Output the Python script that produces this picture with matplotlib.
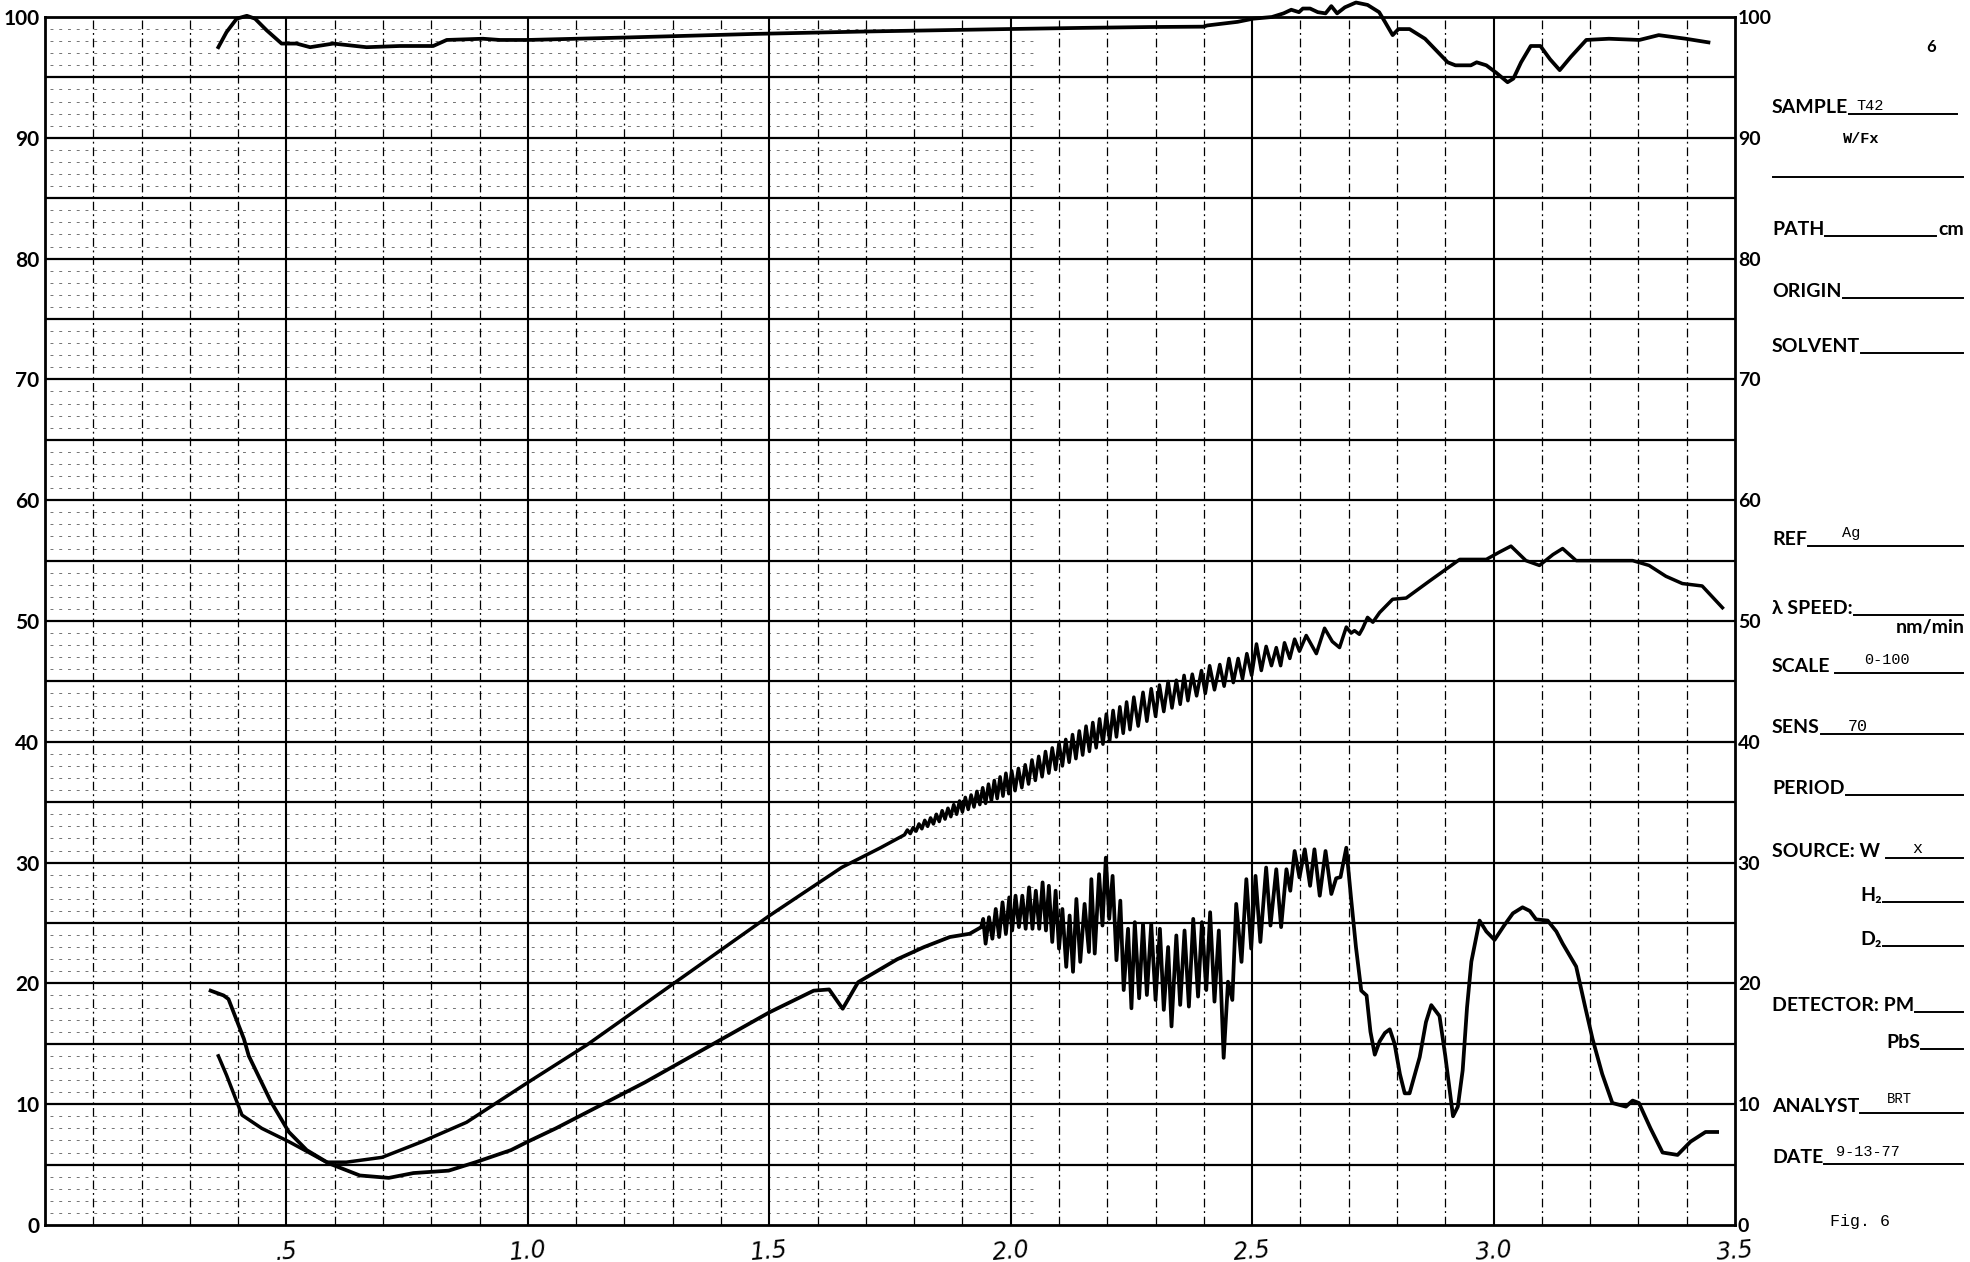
import numpy as np
import matplotlib.pyplot as plt

# readings: wavelength (um) vs % reflectance
top_x = [0.359, 0.376, 0.397, 0.418, 0.435, 0.459, 0.490, 0.521, 0.549, 0.597, 0.666, 0.735, 0.804, 0.832, 0.907,
         0.942, 1.0, 1.2, 1.47, 1.7, 1.99, 2.15, 2.288, 2.399, 2.407, 2.470, 2.502, 2.541, 2.565, 2.581, 2.597,
         2.605, 2.620, 2.636, 2.652, 2.664, 2.676, 2.692, 2.715, 2.739, 2.763, 2.775, 2.791, 2.803, 2.826, 2.858,
         2.905, 2.921, 2.953, 2.965, 2.985, 3.005, 3.029, 3.041, 3.057, 3.077, 3.097, 3.117, 3.137, 3.160, 3.192,
         3.239, 3.302, 3.342, 3.398, 3.445]
top_y = [97.5, 98.75, 99.86, 100.1, 99.86, 98.9, 97.8, 97.8, 97.5, 97.8, 97.5, 97.6, 97.6, 98.1, 98.2,
         98.1, 98.1, 98.3, 98.6, 98.8, 99.0, 99.1, 99.17, 99.2, 99.3, 99.6, 99.86, 100.0, 100.3, 100.6, 100.4,
         100.7, 100.7, 100.4, 100.3, 100.9, 100.3, 100.8, 101.2, 101.0, 100.4, 99.6, 98.5, 99.0, 99.0, 98.2,
         96.25, 96.0, 96.0, 96.25, 96.0, 95.4, 94.6, 94.9, 96.25, 97.6, 97.6, 96.5, 95.6, 96.7, 98.1,
         98.2, 98.1, 98.5, 98.2, 97.9]

mid_x = [0.359, 0.376, 0.408, 0.449, 0.505, 0.542, 0.583, 0.624, 0.698, 0.781, 0.873, 1.0, 1.122, 1.302, 1.5,
         1.65, 1.729,
         1.780, 1.786, 1.792, 1.798, 1.804, 1.810, 1.816, 1.822, 1.828, 1.834, 1.840, 1.846, 1.852, 1.858,
         1.864, 1.870, 1.876, 1.882, 1.888, 1.894, 1.900, 1.906, 1.912, 1.918, 1.924, 1.930, 1.936, 1.942,
         1.948, 1.954, 1.960, 1.966, 1.972, 1.978, 1.984, 1.990, 1.996, 2.002,
         2.009, 2.016, 2.023, 2.030, 2.037, 2.044, 2.051, 2.058, 2.065, 2.072, 2.079, 2.086, 2.093, 2.100,
         2.107, 2.114, 2.121, 2.128, 2.135, 2.142, 2.149, 2.156, 2.163, 2.170, 2.177, 2.184, 2.191, 2.198,
         2.205, 2.212, 2.219, 2.226, 2.233, 2.240, 2.247, 2.255, 2.264,
         2.274, 2.282, 2.291, 2.300, 2.308, 2.317, 2.326, 2.334, 2.343, 2.351, 2.359, 2.367, 2.376, 2.385,
         2.395, 2.403, 2.412, 2.422, 2.433, 2.442, 2.452, 2.461, 2.471, 2.480, 2.489, 2.499, 2.509, 2.519,
         2.529, 2.540, 2.550, 2.559, 2.567, 2.578, 2.588,
         2.598, 2.612, 2.633, 2.650, 2.666, 2.681, 2.695, 2.705, 2.712, 2.722, 2.729, 2.739, 2.750, 2.764,
         2.791, 2.819, 2.867, 2.902, 2.930, 2.985, 3.012, 3.036, 3.067, 3.095, 3.123, 3.143, 3.171, 3.288,
         3.322, 3.357, 3.391, 3.432, 3.474]
mid_y = [14.0, 12.4, 9.1, 8.0, 6.9, 6.1, 5.2, 5.2, 5.6, 6.9, 8.5, 11.8, 14.9, 20.0, 25.6,
         29.6, 31.2,
         32.3, 32.7, 32.4, 32.9, 32.6, 33.2, 32.8, 33.5, 33.0, 33.7, 33.2, 34.0, 33.4, 34.3,
         33.6, 34.5, 33.8, 34.8, 34.0, 35.1, 34.2, 35.4, 34.4, 35.6, 34.6, 35.9, 34.8, 36.2,
         34.9, 36.5, 35.1, 36.8, 35.3, 37.1, 35.5, 37.4, 35.7, 37.6,
         35.95, 37.8, 36.2, 38.1, 36.5, 38.5, 36.8, 38.8, 37.1, 39.2, 37.4, 39.5, 37.7, 39.9,
         38.0, 40.2, 38.3, 40.6, 38.6, 40.9, 38.9, 41.3, 39.2, 41.6, 39.5, 41.9, 39.8, 42.3,
         40.1, 42.6, 40.4, 42.9, 40.7, 43.3, 41.0, 43.7, 41.3,
         44.1, 41.7, 44.4, 42.1, 44.7, 42.5, 45.0, 42.8, 45.1, 43.1, 45.5, 43.4, 45.6, 43.8,
         45.9, 44.0, 46.3, 44.3, 46.4, 44.6, 46.9, 44.9, 46.9, 45.2, 47.3, 45.5, 48.1, 45.9,
         47.9, 46.3, 47.8, 46.3, 48.2, 46.9, 48.5,
         47.5, 48.8, 47.3, 49.4, 48.3, 47.8, 49.5, 49.0, 49.2, 48.9, 49.4, 50.3, 49.9, 50.7,
         51.8, 51.9, 53.3, 54.3, 55.1, 55.1, 55.7, 56.2, 55.0, 54.6, 55.5, 56.0, 55.0, 55.0,
         54.6, 53.7, 53.1, 52.9, 51.1]

low_x = [0.343, 0.370, 0.380, 0.412, 0.422, 0.468, 0.505, 0.542, 0.588, 0.652, 0.712, 0.763, 0.836, 0.892,
         0.965, 1.0, 1.058, 1.15, 1.242, 1.371, 1.5, 1.592, 1.624, 1.652, 1.684, 1.765, 1.82,
         1.874, 1.915, 1.939, 1.943, 1.948, 1.955, 1.962, 1.969, 1.976, 1.983, 1.990, 1.997, 2.003, 2.010,
         2.017, 2.024, 2.031, 2.038, 2.045, 2.052, 2.059, 2.066, 2.073, 2.079, 2.086, 2.093, 2.100, 2.107,
         2.115, 2.122, 2.129, 2.136, 2.144, 2.153, 2.162, 2.167, 2.174, 2.183, 2.190, 2.197, 2.204, 2.211,
         2.219, 2.227, 2.234, 2.243, 2.250, 2.257, 2.266, 2.274, 2.282, 2.291, 2.300, 2.309, 2.317, 2.326,
         2.333, 2.343, 2.351, 2.360, 2.369, 2.378, 2.388, 2.396, 2.405, 2.413, 2.422, 2.431, 2.441, 2.450,
         2.459, 2.467, 2.478, 2.488, 2.498, 2.507, 2.517, 2.529, 2.538, 2.550, 2.560, 2.571, 2.579, 2.588,
         2.598, 2.609, 2.620, 2.629, 2.640, 2.652, 2.664, 2.674, 2.683, 2.695, 2.705,
         2.715, 2.726, 2.737, 2.745, 2.754, 2.764, 2.775, 2.785, 2.795, 2.806, 2.816, 2.826, 2.847, 2.860,
         2.871, 2.888, 2.900, 2.916, 2.926, 2.936, 2.945, 2.954, 2.971, 2.985, 3.002, 3.022, 3.040, 3.060,
         3.075, 3.088, 3.112, 3.130, 3.143, 3.171, 3.190, 3.205, 3.225, 3.246, 3.274, 3.288, 3.301, 3.325,
         3.350, 3.381, 3.408, 3.439, 3.463]
low_y = [19.4, 19.0, 18.7, 15.4, 14.0, 10.2, 7.7, 6.2, 5.1, 4.1, 3.9, 4.3, 4.5, 5.2,
         6.2, 6.9, 8.0, 9.9, 11.8, 14.7, 17.6, 19.4, 19.5, 17.9, 20.1, 22.0, 23.0,
         23.84, 24.11, 24.66, 25.34, 23.29, 25.48, 23.70, 26.16, 23.84, 26.71, 24.11, 27.12, 24.38, 27.26,
         24.66, 27.26, 24.52, 27.95, 24.52, 27.67, 24.52, 28.36, 24.38, 28.08, 23.43, 27.67, 22.88, 26.16,
         21.37, 25.62, 20.96, 26.99, 21.78, 26.58, 22.60, 28.63, 22.47, 29.04, 24.79, 30.41, 25.34, 28.90,
         21.92, 26.85, 19.45, 24.52, 17.94, 25.07, 18.77, 24.93, 19.04, 24.93, 18.63, 24.52, 17.81, 23.01,
         16.44, 23.97, 18.22, 24.38, 18.08, 25.34, 18.91, 25.07, 19.45, 25.89, 18.49, 24.38, 13.84, 20.14,
         18.63, 26.58, 21.78, 28.63, 22.88, 28.90, 23.43, 29.59, 24.79, 29.45, 24.66, 29.45, 27.67, 30.96,
         28.77, 31.10, 28.08, 31.10, 27.26, 30.96, 27.40, 28.7, 28.8, 31.23, 27.0,
         23.0, 19.4, 19.0, 16.0, 14.1, 15.2, 15.9, 16.2, 15.0, 12.5, 10.9, 10.9, 13.9, 16.8,
         18.2, 17.3, 14.0, 9.0, 9.8, 12.8, 18.0, 21.8, 25.2, 24.3, 23.6, 24.8, 25.8, 26.3,
         26.0, 25.3, 25.2, 24.3, 23.3, 21.4, 18.0, 15.4, 12.5, 10.1, 9.8, 10.3, 10.1, 8.0,
         6.0, 5.8, 6.9, 7.7, 7.7]

y_ticks = list(range(0, 101, 10))
x_labels = ['.5', '1.0', '1.5', '2.0', '2.5', '3.0', '3.5']
x_label_pos = [0.5, 1.0, 1.5, 2.0, 2.5, 3.0, 3.5]

W, H = 1970, 1262
L, R, T, B = 45, 1735, 17, 1225
lbl_font = ['Lato', 'DejaVu Sans']
mono = 'Liberation Mono'

fig = plt.figure(figsize=(W / 100, H / 100), dpi=100)
ax = fig.add_axes([L / W, 1 - B / H, (R - L) / W, (B - T) / H])
ax.set_xlim(0, 3.5)
ax.set_ylim(0, 100)

# chart paper grid
for v in range(1, 100):
    if v % 5 == 0:
        ax.axhline(v, color='k', lw=1.6, zorder=1)
    else:
        ax.hlines(v, 0.01, 2.05, color='0.45', lw=0.7, linestyles=(0, (3, 6)), zorder=1)
for i in range(1, 35):
    if i % 5 == 0:
        ax.axvline(i / 10, color='k', lw=1.5, zorder=1)
    else:
        ax.axvline(i / 10, color='k', lw=0.9, ls=(0, (7, 3, 1.5, 3)), zorder=1)

for s in ax.spines.values():
    s.set_linewidth(2)

ax.plot(top_x, top_y, color='k', lw=2.7, clip_on=False, zorder=3)
ax.plot(mid_x, mid_y, color='k', lw=2.5, clip_on=False, zorder=3)
ax.plot(low_x, low_y, color='k', lw=2.7, clip_on=False, zorder=3)

ax.set_xticks([])
ax.set_yticks(y_ticks)
ax.set_yticklabels([str(t) for t in y_ticks], family=lbl_font, weight='bold', fontsize=15)
ax.tick_params(axis='y', length=0, pad=4)

ax2 = ax.twinx()
ax2.set_ylim(0, 100)
ax2.set_yticks(y_ticks)
ax2.set_yticklabels([str(t) for t in y_ticks], family=lbl_font, weight='bold', fontsize=14)
ax2.tick_params(axis='y', length=0, pad=2)
for s in ax2.spines.values():
    s.set_visible(False)

# handwritten wavelength marks
tr = ax.get_xaxis_transform()
for xv, lab in zip(x_label_pos, x_labels):
    ax.text(xv, -0.022, lab, transform=tr, ha='center', va='center', fontsize=17,
            style='italic', family='DejaVu Sans', weight='light', rotation=5)

# form fields on the right
ann = fig.add_axes([0, 0, 1, 1])
ann.set_xlim(0, W)
ann.set_ylim(H, 0)
ann.axis('off')
renderer = fig.canvas.get_renderer()


def field(label, x, y, u1, ha='left', gap=1):
    t = ann.text(x, y, label, family=lbl_font, weight='bold', fontsize=14, ha=ha, va='baseline')
    bb = t.get_window_extent(renderer).transformed(ann.transData.inverted())
    ann.plot([max(bb.x0, bb.x1) + gap, u1], [y + 1, y + 1], color='k', lw=1.4)


def typed(s, x, y, size=11, ha='left', weight='bold'):
    ann.text(x, y, s, family=mono, fontsize=size, ha=ha, va='baseline', weight=weight)


ann.text(1931, 52, '6', family=lbl_font, weight='bold', fontsize=12, ha='center', va='baseline')
field('SAMPLE', 1772, 113, 1957)
typed('T42', 1856, 110, weight='normal')
typed('W/Fx', 1843, 143)
ann.plot([1773, 1963], [177, 177], color='k', lw=1.4)
field('PATH', 1772, 235, 1936)
ann.text(1938, 235, 'cm', family=lbl_font, weight='bold', fontsize=14, va='baseline')
field('ORIGIN', 1772, 297, 1963)
field('SOLVENT', 1772, 352, 1963)
field('REF', 1772, 545, 1963)
typed('Ag', 1842, 537, weight='normal')
field('λ SPEED:', 1772, 614, 1963)
ann.text(1965, 633, 'nm/min', family=lbl_font, weight='bold', fontsize=14, ha='right', va='baseline')
field('SCALE', 1772, 672, 1963, gap=4)
typed('0-100', 1864, 664, weight='normal')
field('SENS', 1772, 733, 1963)
typed('70', 1848, 731, size=12, weight='normal')
field('PERIOD', 1772, 794, 1963)
field('SOURCE: W', 1772, 857, 1963, gap=6)
typed('x', 1912, 853, size=12, weight='normal')
field('H₂', 1882, 901, 1963, ha='right')
field('D₂', 1882, 945, 1963, ha='right')
field('DETECTOR: PM', 1772, 1011, 1963)
field('PbS', 1920, 1048, 1963, ha='right')
field('ANALYST', 1772, 1112, 1963)
typed('BRT', 1887, 1103, size=10, weight='normal')
field('DATE', 1772, 1163, 1963)
typed('9-13-77', 1836, 1156, weight='normal')
typed('Fig. 6', 1860, 1226, size=12, ha='center', weight='normal')

fig.savefig('out.png', dpi=100)
